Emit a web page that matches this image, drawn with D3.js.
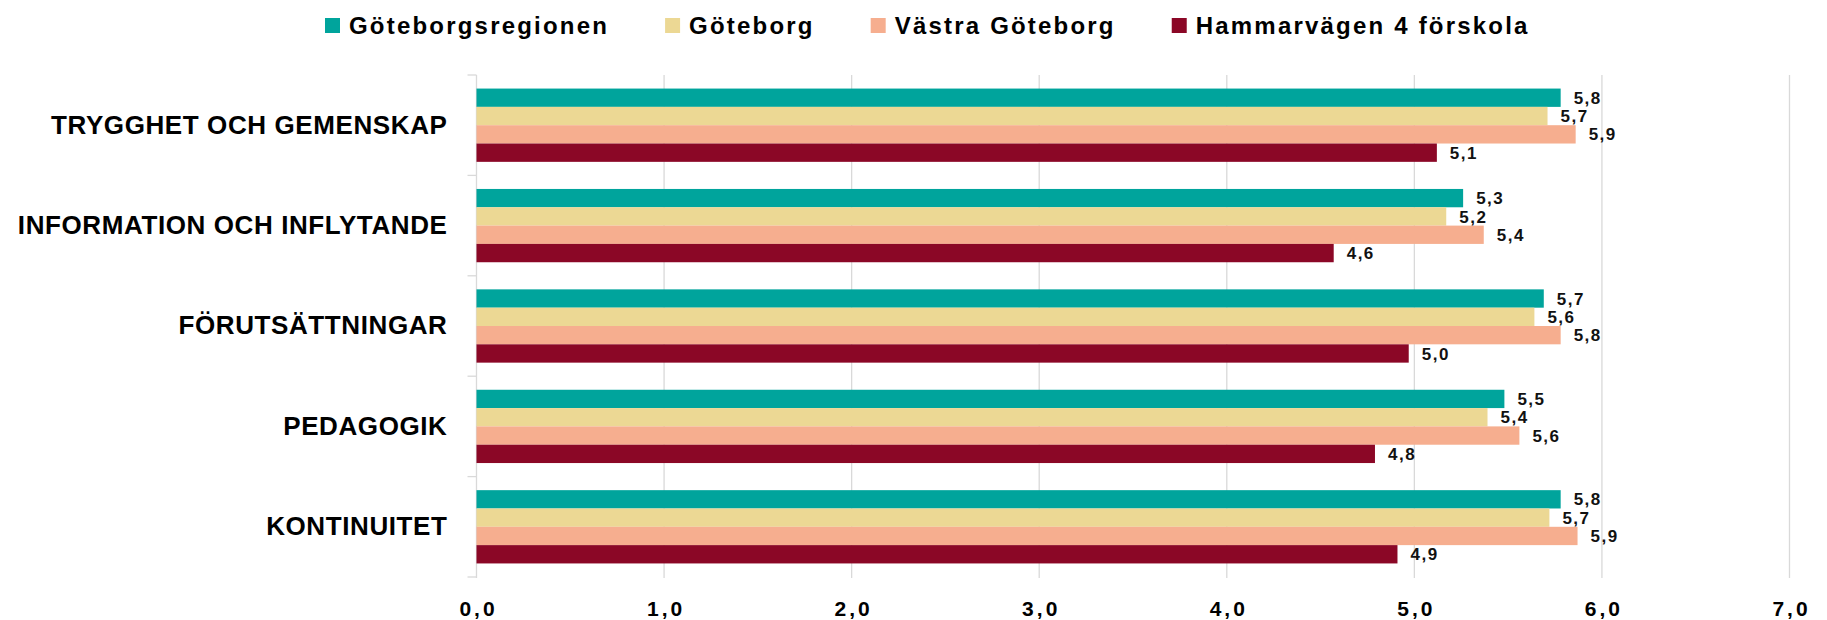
<!DOCTYPE html>
<html>
<head>
<meta charset="utf-8">
<script src="https://cdn.jsdelivr.net/npm/d3@7"></script>
<style>
  body { margin: 0; background: #fff; }
  svg { display: block; font-family: "Liberation Sans", Arial, sans-serif; }
</style>
</head>
<body>
<div id="chart"></div>
<script>
// Categories (top to bottom) and series
const categories = ["TRYGGHET OCH GEMENSKAP", "INFORMATION OCH INFLYTANDE", "FÖRUTSÄTTNINGAR", "PEDAGOGIK", "KONTINUITET"];
const series = ["Göteborgsregionen", "Göteborg", "Västra Göteborg", "Hammarvägen 4 förskola"];
const colors = ["#00a49c", "#ecd894", "#f6ae8f", "#8b0726"];

// Values per series, in category order
const goteborgsregionen = [5.78, 5.26, 5.69, 5.48, 5.78];
const goteborg = [5.71, 5.17, 5.64, 5.39, 5.72];
const vastraGoteborg = [5.86, 5.37, 5.78, 5.56, 5.87];
const hammarvagen = [5.12, 4.57, 4.97, 4.79, 4.91];

const xTicks = [0, 1, 2, 3, 4, 5, 6, 7];

const width = 1827, height = 620;
const seriesValues = [goteborgsregionen, goteborg, vastraGoteborg, hammarvagen];

// flat table for the bars
let rows = [];
categories.forEach(function(c, i) {
    series.forEach(function(s, j) {
        rows.push({ cat: c, series: s, value: seriesValues[j][i], color: colors[j] });
    });
});

const fmt = function(v) { return v.toFixed(1).replace(".", ","); };

let svg = d3.select("#chart").append("svg")
    .attr("width", width)
    .attr("height", height);

// scales
let x = d3.scaleLinear().domain([0, 7]).range([476.5, 1789.5]);
let y = d3.scaleBand().domain(categories).range([75, 577]).padding(0);
let ySub = d3.scaleBand().domain(series)
    .range([0, y.bandwidth()])
    .paddingInner(0)
    .paddingOuter(0.74);

// vertical gridlines (including the 0 axis line)
svg.append("g").selectAll("line")
    .data(xTicks)
    .enter().append("line")
    .attr("x1", d => x(d)).attr("x2", d => x(d))
    .attr("y1", y.range()[0]).attr("y2", y.range()[1] + 1)
    .attr("stroke", "#d9d9d9")
    .attr("stroke-width", 1.3);

// small separator ticks left of the axis at category boundaries
let bounds = categories.map(c => y(c)).concat([y.range()[1]]);
svg.append("g").selectAll("line")
    .data(bounds)
    .enter().append("line")
    .attr("x1", x(0) - 9).attr("x2", x(0))
    .attr("y1", d => d).attr("y2", d => d)
    .attr("stroke", "#d9d9d9")
    .attr("stroke-width", 1.3);

// bars
svg.append("g").selectAll("rect")
    .data(rows)
    .enter().append("rect")
    .attr("x", x(0))
    .attr("y", d => y(d.cat) + ySub(d.series))
    .attr("width", d => x(d.value) - x(0))
    .attr("height", ySub.bandwidth())
    .attr("fill", d => d.color);

// value labels
svg.append("g").selectAll("text")
    .data(rows)
    .enter().append("text")
    .attr("x", d => x(d.value) + 13)
    .attr("y", d => y(d.cat) + ySub(d.series) + ySub.bandwidth() / 2)
    .attr("dy", "0.36em")
    .style("font-size", "17px")
    .style("font-weight", "bold")
    .style("letter-spacing", "1.5px")
    .style("fill", "#111")
    .text(d => fmt(d.value));

// category labels
let yAxis = svg.append("g")
    .attr("transform", `translate(${x(0)}, 0)`)
    .call(d3.axisLeft(y).tickSize(0).tickPadding(29));
yAxis.select(".domain").remove();
yAxis.selectAll("text")
    .style("font-family", "'Liberation Sans', Arial, sans-serif")
    .style("font-size", "26px")
    .style("font-weight", "bold")
    .style("letter-spacing", "0.6px")
    .style("fill", "#000");

// x axis labels
let xAxis = svg.append("g")
    .attr("transform", "translate(0, 601)")
    .call(d3.axisBottom(x).tickValues(xTicks).tickFormat(fmt).tickSize(0).tickPadding(0));
xAxis.select(".domain").remove();
xAxis.selectAll("text")
    .style("font-family", "'Liberation Sans', Arial, sans-serif")
    .style("font-size", "21px")
    .style("font-weight", "bold")
    .style("letter-spacing", "3px")
    .attr("dx", "1.5px")
    .style("fill", "#000");

// legend
let legend = svg.append("g").attr("transform", "translate(325, 0)");
let items = legend.selectAll("g")
    .data(series)
    .enter().append("g");
items.append("rect")
    .attr("width", 15).attr("height", 15)
    .attr("y", 18)
    .attr("fill", (d, i) => colors[i]);
items.append("text")
    .attr("x", 24)
    .attr("y", 25.5)
    .attr("dy", "0.35em")
    .style("font-size", "24px")
    .style("font-weight", "bold")
    .style("letter-spacing", "2.2px")
    .style("fill", "#000")
    .text(d => d);

// lay legend items out in a row
let pos = 0;
items.each(function() {
    let g = d3.select(this);
    g.attr("transform", `translate(${pos}, 0)`);
    pos += 24 + g.select("text").node().getComputedTextLength() + 56;
});
</script>
</body>
</html>
